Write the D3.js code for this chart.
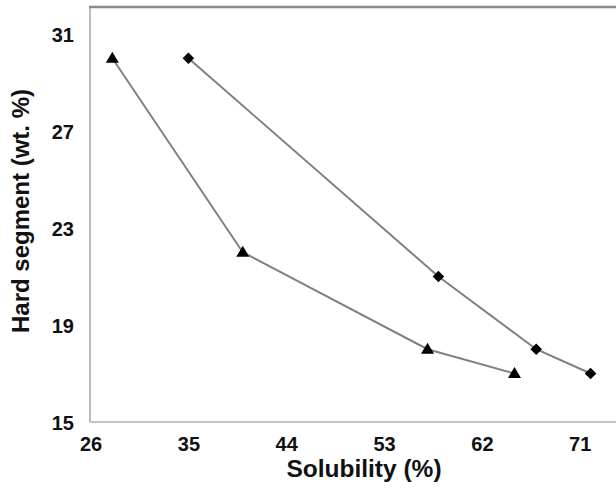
<!DOCTYPE html>
<html>
<head>
<meta charset="utf-8">
<script src="https://cdn.jsdelivr.net/npm/d3@7"></script>
<style>
  html, body { margin: 0; padding: 0; background: #fff; }
  svg { display: block; font-family: "Liberation Sans", Arial, sans-serif; }
</style>
</head>
<body>
<svg id="chart" width="616" height="494"></svg>
<script>
// ---- data ----
const triangleX = [28, 40, 57, 65];
const triangleY = [30, 22, 18, 17];
const diamondX = [35, 58, 67, 72];
const diamondY = [30, 21, 18, 17];
const xTicks = [26, 35, 44, 53, 62, 71];
const yTicks = [15, 19, 23, 27, 31];
const xTitle = "Solubility (%)";
const yTitle = "Hard segment (wt. %)";

(function () {
const svg = d3.select("#chart");
const W = 616;
const plotLeft = 90, plotBottom = 422, plotTop = 7;

const x = d3.scaleLinear().domain([26, 71]).range([90.6, 579.7]);
const y = d3.scaleLinear().domain([15, 31]).range([422, 34]);

// frame
svg.append("line").attr("x1", plotLeft).attr("x2", plotLeft).attr("y1", plotTop).attr("y2", plotBottom)
  .attr("stroke", "#bdbdbd").attr("stroke-width", 2);
svg.append("line").attr("x1", plotLeft - 1).attr("x2", W).attr("y1", plotBottom).attr("y2", plotBottom)
  .attr("stroke", "#c4c4c4").attr("stroke-width", 2);
svg.append("line").attr("x1", plotLeft - 1).attr("x2", W).attr("y1", plotTop).attr("y2", plotTop)
  .attr("stroke", "#8a8a8a").attr("stroke-width", 2.5);

// axes (labels only)
const xAxis = d3.axisBottom(x).tickValues(xTicks).tickSize(0).tickPadding(0).tickFormat(d3.format("d"));
const gx = svg.append("g").attr("transform", `translate(0,${plotBottom})`).call(xAxis);
gx.select(".domain").remove();
gx.selectAll("text").attr("y", 29).attr("dy", null)
  .attr("font-size", 20).attr("font-weight", "bold").attr("fill", "#111")
  .attr("font-family", "Liberation Sans, Arial, sans-serif");

const yAxis = d3.axisLeft(y).tickValues(yTicks).tickSize(0).tickPadding(0).tickFormat(d3.format("d"));
const gy = svg.append("g").attr("transform", `translate(74,0)`).call(yAxis);
gy.select(".domain").remove();
gy.selectAll("text").attr("x", 0).attr("dy", "0.36em")
  .attr("font-size", 20).attr("font-weight", "bold").attr("fill", "#111")
  .attr("font-family", "Liberation Sans, Arial, sans-serif");

// titles
svg.append("text").attr("x", 364).attr("y", 477).attr("text-anchor", "middle")
  .attr("font-size", 24.5).attr("font-weight", "bold").attr("fill", "#111").text(xTitle);
svg.append("text").attr("transform", "translate(29,211) rotate(-90)").attr("text-anchor", "middle")
  .attr("font-size", 24).attr("font-weight", "bold").attr("fill", "#111").text(yTitle);

// series
const tri = triangleX.map((v, i) => [v, triangleY[i]]);
const dia = diamondX.map((v, i) => [v, diamondY[i]]);
const line = d3.line().x(d => x(d[0])).y(d => y(d[1]));

[tri, dia].forEach(s => {
  svg.append("path").datum(s).attr("d", line)
    .attr("fill", "none").attr("stroke", "#808080").attr("stroke-width", 2);
});

svg.append("g").selectAll("path").data(tri).join("path")
  .attr("transform", d => `translate(${x(d[0])},${y(d[1])})`)
  .attr("d", "M0,-6.5L6.5,4.5L-6.5,4.5Z").attr("fill", "#000");

svg.append("g").selectAll("path").data(dia).join("path")
  .attr("transform", d => `translate(${x(d[0])},${y(d[1])})`)
  .attr("d", "M0,-5.8L5.8,0L0,5.8L-5.8,0Z").attr("fill", "#000");
})();
</script>
</body>
</html>
